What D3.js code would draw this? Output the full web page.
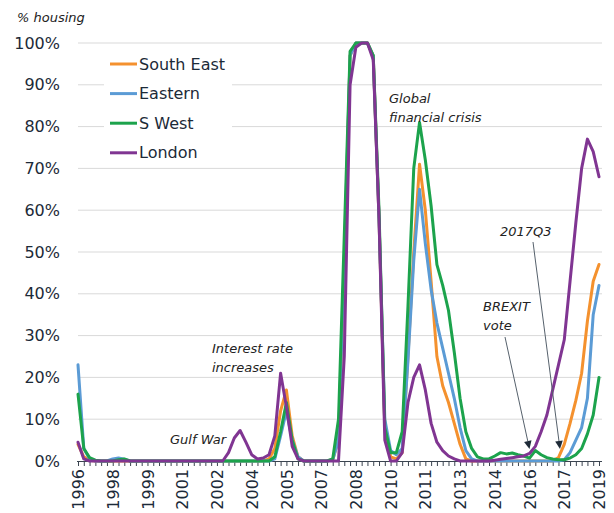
<!DOCTYPE html>
<html>
<head>
<meta charset="utf-8">
<script src="https://cdn.jsdelivr.net/npm/d3@7"></script>
<style>
  body { margin: 0; background: #fff; }
  svg { display: block; }
  text { font-family: "DejaVu Sans", Verdana, sans-serif; }
</style>
</head>
<body>
<svg id="chart" width="614" height="513"></svg>
<script>
// Quarterly series, first quarter 1996Q3, values in % of housing
const startYear = 1996, startQuarter = 3;

const southEast = [
  4, 1, 0.2, 0, 0, 0, 0, 0, 0, 0,
  0, 0, 0, 0, 0, 0, 0, 0, 0, 0,
  0, 0, 0, 0, 0, 0, 0, 0, 0, 0,
  0, 0, 0, 0.5, 3, 12, 17, 6, 1, 0,
  0, 0, 0, 0, 0.3, 5, 45, 97, 100, 100,
  100, 97, 58, 8, 1, 0.5, 2, 25, 50, 71,
  60, 43, 25, 18, 14, 9, 4, 0.5, 0, 0,
  0, 0, 0, 0, 0, 0, 0, 0, 0, 0,
  0, 0, 0, 0.8, 4, 9, 14.5, 21, 33.5, 43,
  47
];
const eastern = [
  23, 3, 0.5, 0, 0, 0, 0.5, 0.7, 0.4, 0,
  0, 0, 0, 0, 0, 0, 0, 0, 0, 0,
  0, 0, 0, 0, 0, 0, 0, 0, 0, 0,
  0, 0, 0, 0, 0.5, 6, 12, 5, 1, 0,
  0, 0, 0, 0, 0.3, 5, 48, 97, 100, 100,
  100, 97, 58, 10, 2.5, 1.5, 3, 24, 48, 65,
  52, 41, 33, 27, 21, 15, 8, 2.5, 0.5, 0,
  0, 0, 0, 0, 0, 0, 0, 0, 0, 0,
  0, 0, 0, 0, 0.3, 2, 5, 8, 15, 35,
  42
];
const sWest = [
  16, 3, 0.8, 0.2, 0, 0, 0, 0.3, 0.5, 0,
  0, 0, 0, 0, 0, 0, 0, 0, 0, 0,
  0, 0, 0, 0, 0, 0, 0, 0, 0, 0,
  0, 0, 0, 0, 1, 7, 14, 5, 0.5, 0,
  0, 0, 0, 0, 0.5, 10, 54, 98, 100, 100,
  100, 97, 60, 8, 2, 2, 7, 37, 70, 81,
  72, 61, 47, 42, 36, 26, 15, 7, 3, 1,
  0.5, 0.5, 1.2, 2, 1.7, 1.9, 1.5, 1.2, 0.7, 2.5,
  1.5, 0.8, 0.5, 0.3, 0.3, 0.7, 1.5, 3, 6.5, 11,
  20
];
const london = [
  4.5, 0.5, 0, 0, 0, 0, 0, 0, 0, 0,
  0, 0, 0, 0, 0, 0, 0, 0, 0, 0,
  0, 0, 0, 0, 0, 0, 2, 5.5, 7.3, 4.5,
  1.5, 0.5, 0.7, 1.5, 6, 21, 13, 3.5, 0.5, 0,
  0, 0, 0, 0, 0, 0, 25, 90, 99, 100,
  100, 96, 58, 5, 0, 0, 2, 14, 20, 23,
  17, 9, 4.5, 2.5, 1.2, 0.5, 0, 0, 0, 0,
  0, 0, 0.2, 0.4, 0.6, 0.8, 1, 1.2, 1.8, 3.5,
  7, 11, 17, 23, 29, 43, 57, 70, 77, 74,
  68
];

const seriesNames = ["South East", "Eastern", "S West", "London"];
const seriesColors = ["#f4912e", "#5b9bd5", "#1ca34c", "#803592"];
const seriesValues = [southEast, eastern, sWest, london];

const tickLabels = ["1996", "1998", "1999", "2001", "2002", "2004", "2005", "2007",
                    "2008", "2010", "2011", "2013", "2014", "2016", "2017", "2019"];
const tickStep = 6;
const yTicks = [0, 10, 20, 30, 40, 50, 60, 70, 80, 90, 100];

// Quarter names for the category axis
const quarters = southEast.map((_, k) => {
  const q0 = startQuarter - 1 + k;
  return `${startYear + Math.floor(q0 / 4)}Q${(q0 % 4) + 1}`;
});

const svg = d3.select("#chart");
const plotLeft = 78, plotRight = 599, plotTop = 43, plotBottom = 461;
const x = d3.scalePoint().domain(quarters).range([plotLeft, plotRight]);
const y = d3.scaleLinear().domain([0, 100]).range([plotBottom, plotTop]);

const textColor = "#1c2a38";

// Horizontal gridlines
svg.append("g")
  .selectAll("line")
  .data(yTicks.filter(d => d > 0))
  .join("line")
  .attr("x1", plotLeft).attr("x2", plotRight + 3)
  .attr("y1", d => y(d)).attr("y2", d => y(d))
  .attr("stroke", "#d9d9d9").attr("stroke-width", 1);

// Y axis labels
const yAxis = svg.append("g")
  .attr("transform", `translate(${plotLeft},0)`)
  .call(d3.axisLeft(y).tickValues(yTicks).tickFormat(d => d + "%").tickSize(0).tickPadding(18));
yAxis.select(".domain").remove();
yAxis.selectAll("text")
  .attr("font-size", 16)
  .attr("font-family", "DejaVu Sans, Verdana, sans-serif")
  .attr("fill", textColor);

// X axis: one tick per quarter, a year label every six quarters
const xAxis = svg.append("g")
  .attr("transform", `translate(0,${plotBottom})`)
  .call(d3.axisBottom(x)
    .tickValues(quarters)
    .tickSize(5)
    .tickSizeOuter(0)
    .tickFormat((d, i) => (i % tickStep === 0 ? tickLabels[i / tickStep] : "")));
xAxis.select(".domain").remove();
xAxis.selectAll(".tick line").attr("stroke", "#3b4450");
xAxis.selectAll("text")
  .attr("font-size", 16)
  .attr("font-family", "DejaVu Sans, Verdana, sans-serif")
  .attr("fill", textColor)
  .attr("transform", "rotate(-90)")
  .attr("text-anchor", "end")
  .attr("x", -8)
  .attr("y", 0)
  .attr("dy", "0.35em");
svg.append("line")
  .attr("x1", plotLeft - 1).attr("x2", plotRight + 3)
  .attr("y1", plotBottom + 0.5).attr("y2", plotBottom + 0.5)
  .attr("stroke", "#3b4450").attr("stroke-width", 1);

// Series lines
const line = d3.line()
  .x((d, i) => x(quarters[i]))
  .y(d => y(d));

svg.append("g")
  .selectAll("path")
  .data(seriesValues)
  .join("path")
  .attr("d", d => line(d))
  .attr("fill", "none")
  .attr("stroke", (d, i) => seriesColors[i])
  .attr("stroke-width", 3)
  .attr("stroke-linejoin", "round")
  .attr("stroke-linecap", "round");

// Legend
const legend = svg.append("g");
legend.append("rect")
  .attr("x", 104).attr("y", 47).attr("width", 128).attr("height", 118)
  .attr("fill", "#fff");
const legendItems = legend.selectAll("g.item")
  .data(seriesNames)
  .join("g")
  .attr("class", "item")
  .attr("transform", (d, i) => `translate(110,${64 + i * 29.6})`);
legendItems.append("line")
  .attr("x1", 0).attr("x2", 27)
  .attr("stroke", (d, i) => seriesColors[i])
  .attr("stroke-width", 3);
legendItems.append("text")
  .attr("x", 29).attr("dy", "0.35em")
  .attr("font-size", 16)
  .attr("fill", textColor)
  .text(d => d);

// Axis title
svg.append("text")
  .attr("x", 17).attr("y", 22)
  .attr("font-size", 13).attr("font-style", "italic")
  .attr("fill", "#222")
  .text("% housing");

// Event annotations
const notes = [
  { lines: ["Gulf War"], x: 170, y: 444 },
  { lines: ["Interest rate", "increases"], x: 212, y: 353 },
  { lines: ["Global", "financial crisis"], x: 389, y: 103 },
  { lines: ["2017Q3"], x: 500, y: 236 },
  { lines: ["BREXIT", "vote"], x: 483, y: 311 }
];
notes.forEach(n => {
  const t = svg.append("text")
    .attr("x", n.x).attr("y", n.y)
    .attr("font-size", 13).attr("font-style", "italic")
    .attr("fill", "#222");
  n.lines.forEach((s, k) => {
    t.append("tspan").attr("x", n.x).attr("dy", k === 0 ? 0 : 19).text(s);
  });
});

// Arrows pointing at the two events
const arrows = [
  { from: [505, 337], to: [529.5, 449] },
  { from: [533, 242], to: [560, 449] }
];
arrows.forEach(a => {
  const [x0, y0] = a.from, [x1, y1] = a.to;
  const ang = Math.atan2(y1 - y0, x1 - x0);
  const len = 8, half = 3.8;
  const bx = x1 - len * Math.cos(ang), by = y1 - len * Math.sin(ang);
  svg.append("line")
    .attr("x1", x0).attr("y1", y0).attr("x2", bx).attr("y2", by)
    .attr("stroke", "#56616c").attr("stroke-width", 1);
  const px = -Math.sin(ang) * half, py = Math.cos(ang) * half;
  svg.append("path")
    .attr("d", `M${x1},${y1}L${bx + px},${by + py}L${bx - px},${by - py}Z`)
    .attr("fill", "#1f2b38");
});
</script>
</body>
</html>
